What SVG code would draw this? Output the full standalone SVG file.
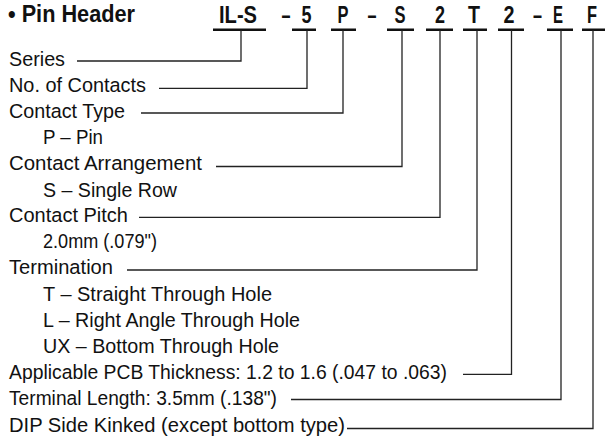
<svg xmlns="http://www.w3.org/2000/svg" width="605" height="442" viewBox="0 0 605 442">
<style>
.t{font-family:"Liberation Sans",Arial,sans-serif;font-size:20.5px;fill:#111}
.h{font-family:"Liberation Sans",Arial,sans-serif;font-size:24px;font-weight:bold;fill:#111;text-anchor:middle}
.u{stroke:#111;stroke-width:2.5;fill:none}
.c{stroke:#222;stroke-width:1.3;fill:none}
</style>
<rect width="605" height="442" fill="#fff"/>
<g id="title">
<text x="8" y="22" font-family="Liberation Sans, Arial, sans-serif" font-size="24" font-weight="bold" fill="#111" textLength="127" lengthAdjust="spacingAndGlyphs">• Pin Header</text>
</g>
<g id="code">
<text class="h" x="238" y="22.5" textLength="38" lengthAdjust="spacingAndGlyphs">IL-S</text>
<text class="h" x="286" y="22.5" textLength="9" lengthAdjust="spacingAndGlyphs">–</text>
<text class="h" x="306.5" y="22.5" textLength="10" lengthAdjust="spacingAndGlyphs">5</text>
<text class="h" x="343" y="22.5" textLength="11" lengthAdjust="spacingAndGlyphs">P</text>
<text class="h" x="372" y="22.5" textLength="9" lengthAdjust="spacingAndGlyphs">–</text>
<text class="h" x="400" y="22.5" textLength="11" lengthAdjust="spacingAndGlyphs">S</text>
<text class="h" x="440" y="22.5" textLength="10" lengthAdjust="spacingAndGlyphs">2</text>
<text class="h" x="474" y="22.5" textLength="12" lengthAdjust="spacingAndGlyphs">T</text>
<text class="h" x="509" y="22.5" textLength="11" lengthAdjust="spacingAndGlyphs">2</text>
<text class="h" x="537.5" y="22.5" textLength="9" lengthAdjust="spacingAndGlyphs">–</text>
<text class="h" x="558" y="22.5" textLength="10" lengthAdjust="spacingAndGlyphs">E</text>
<text class="h" x="592" y="22.5" textLength="10" lengthAdjust="spacingAndGlyphs">F</text>
<path class="u" d="M213,29.7H266M292,29.7H316M331,29.7H356M387,29.7H414M426,29.7H453M463,29.7H487M498,29.7H524M547,29.7H573M582,29.7H605"/>
</g>
<g id="labels">
<text class="t" x="9" y="65.7" textLength="56" lengthAdjust="spacingAndGlyphs">Series</text>
<text class="t" x="9" y="91.7" textLength="137" lengthAdjust="spacingAndGlyphs">No. of Contacts</text>
<text class="t" x="9" y="117.7" textLength="116" lengthAdjust="spacingAndGlyphs">Contact Type</text>
<text class="t" x="43" y="144" textLength="60" lengthAdjust="spacingAndGlyphs">P – Pin</text>
<text class="t" x="9" y="170" textLength="193" lengthAdjust="spacingAndGlyphs">Contact Arrangement</text>
<text class="t" x="43" y="196.7" textLength="134" lengthAdjust="spacingAndGlyphs">S – Single Row</text>
<text class="t" x="9" y="222.3" textLength="119" lengthAdjust="spacingAndGlyphs">Contact Pitch</text>
<text class="t" x="43" y="248.3" textLength="114" lengthAdjust="spacingAndGlyphs">2.0mm (.079")</text>
<text class="t" x="9" y="274.3" textLength="104" lengthAdjust="spacingAndGlyphs">Termination</text>
<text class="t" x="43" y="300.7" textLength="229" lengthAdjust="spacingAndGlyphs">T – Straight Through Hole</text>
<text class="t" x="43" y="326.7" textLength="257" lengthAdjust="spacingAndGlyphs">L – Right Angle Through Hole</text>
<text class="t" x="43" y="353" textLength="236" lengthAdjust="spacingAndGlyphs">UX – Bottom Through Hole</text>
<text class="t" x="9" y="379.3" textLength="438" lengthAdjust="spacingAndGlyphs">Applicable PCB Thickness: 1.2 to 1.6 (.047 to .063)</text>
<text class="t" x="9" y="405" textLength="268" lengthAdjust="spacingAndGlyphs">Terminal Length: 3.5mm (.138")</text>
<text class="t" x="9" y="431.7" textLength="336" lengthAdjust="spacingAndGlyphs">DIP Side Kinked (except bottom type)</text>
</g>
<g id="connectors">
<path class="c" d="M77,61H241V30"/>
<path class="c" d="M159,88.3H307V30"/>
<path class="c" d="M141,113H343V30"/>
<path class="c" d="M216,166.5H402V30"/>
<path class="c" d="M139,217.3H440V30"/>
<path class="c" d="M127,270H477V30"/>
<path class="c" d="M463,374.3H511.5V30"/>
<path class="c" d="M291,399.5H561V30"/>
<path class="c" d="M347,428.5H593V30"/>
</g>
</svg>
